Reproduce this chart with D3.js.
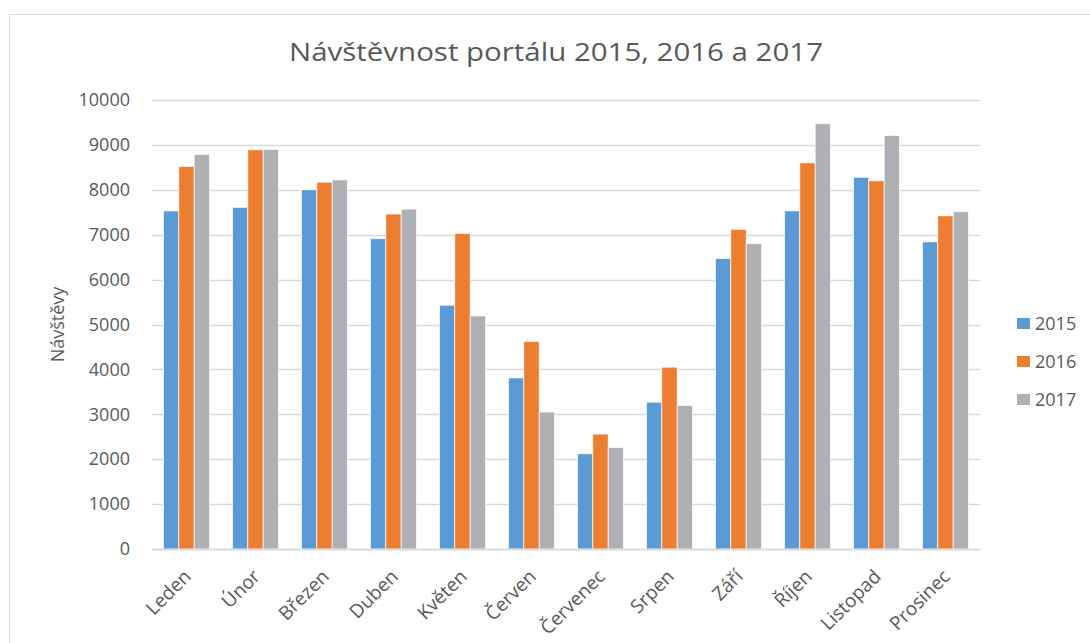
<!DOCTYPE html>
<html>
<head>
<meta charset="utf-8">
<script src="https://cdn.jsdelivr.net/npm/d3@7"></script>
<style>
  body { margin: 0; background: #fff; }
  text { font-family: "Open Sans", sans-serif; fill: #595959; }
</style>
</head>
<body>
<div id="chart"></div>
<script>
const months = ["Leden", "Únor", "Březen", "Duben", "Květen", "Červen", "Červenec", "Srpen", "Září", "Říjen", "Listopad", "Prosinec"];
const years = ["2015", "2016", "2017"];
const v2015 = [7530, 7610, 8000, 6910, 5430, 3810, 2120, 3270, 6470, 7530, 8280, 6840];
const v2016 = [8520, 8890, 8170, 7460, 7030, 4620, 2560, 4050, 7120, 8600, 8200, 7420];
const v2017 = [8790, 8900, 8220, 7570, 5190, 3050, 2260, 3200, 6800, 9470, 9210, 7510];
const yTicks = [0, 1000, 2000, 3000, 4000, 5000, 6000, 7000, 8000, 9000, 10000];

const colors = { "2015": "#5b9bd5", "2016": "#ed7d31", "2017": "#afb0b4" };
const seriesValues = { "2015": v2015, "2016": v2016, "2017": v2017 };

const W = 1090, H = 643;
const margin = { top: 100, right: 110, bottom: 94, left: 152 };
const width = W - margin.left - margin.right;
const height = H - margin.top - margin.bottom;

const svg = d3.select("#chart").append("svg")
  .attr("width", W)
  .attr("height", H);

// chart frame
svg.append("rect")
  .attr("x", 9.5).attr("y", 14.5)
  .attr("width", W + 10).attr("height", H + 10)
  .attr("fill", "none")
  .attr("stroke", "#d9d9d9");

svg.append("text")
  .attr("x", 289).attr("y", 61)
  .attr("textLength", 534)
  .attr("lengthAdjust", "spacingAndGlyphs")
  .style("font-size", "25px")
  .text("Návštěvnost portálu 2015, 2016 a 2017");

const g = svg.append("g").attr("transform", `translate(${margin.left},${margin.top})`);

const x = d3.scaleBand().domain(months).range([0, width])
  .paddingInner(0.333).paddingOuter(0.1667);
const x1 = d3.scaleBand().domain(years).range([0, x.bandwidth()]);
const y = d3.scaleLinear().domain([0, 10000]).range([height, 0]);

// gridlines
g.append("g")
  .selectAll("line")
  .data(yTicks)
  .join("line")
  .attr("x1", 0).attr("x2", width)
  .attr("y1", d => Math.round(y(d)) + 0.5)
  .attr("y2", d => Math.round(y(d)) + 0.5)
  .attr("stroke", "#d9d9d9")
  .attr("stroke-width", 1.3);

// y axis labels
const yAxis = g.append("g")
  .call(d3.axisLeft(y).tickValues(yTicks).tickSize(0).tickPadding(22).tickFormat(d3.format("d")));
yAxis.select(".domain").remove();
yAxis.selectAll("text").style("font-size", "18px").style("fill", "#595959");

// bars
const groups = g.append("g")
  .selectAll("g")
  .data(months)
  .join("g")
  .attr("transform", d => `translate(${x(d)},0)`);

groups.selectAll("rect")
  .data((m, i) => years.map(yr => ({ yr, v: seriesValues[yr][i] })))
  .join("rect")
  .attr("x", d => x1(d.yr))
  .attr("y", d => y(d.v))
  .attr("width", x1.bandwidth())
  .attr("height", d => height - y(d.v))
  .attr("fill", d => colors[d.yr])
  .attr("stroke", "#fff")
  .attr("stroke-width", 0.7);

// x axis
const xAxis = g.append("g")
  .attr("transform", `translate(0,${height})`)
  .call(d3.axisBottom(x).tickSize(0).tickPadding(0));
xAxis.select(".domain").attr("stroke", "#d9d9d9").attr("stroke-width", 1.3);
xAxis.selectAll("text")
  .style("font-size", "19px")
  .style("fill", "#595959")
  .attr("text-anchor", "end")
  .attr("y", 0)
  .attr("dy", "0.35em")
  .attr("transform", "translate(1,24) rotate(-45)");

// y axis title
svg.append("text")
  .attr("transform", `translate(64,${margin.top + height / 2}) rotate(-90)`)
  .attr("text-anchor", "middle")
  .style("font-size", "18px")
  .text("Návštěvy");

// legend
const legend = svg.append("g").attr("transform", "translate(1017,318)");
const li = legend.selectAll("g")
  .data(years)
  .join("g")
  .attr("transform", (d, i) => `translate(0,${i * 38})`);
li.append("rect")
  .attr("width", 13).attr("height", 11)
  .attr("fill", d => colors[d]);
li.append("text")
  .attr("x", 18).attr("y", 12)
  .style("font-size", "18px")
  .text(d => d);
</script>
</body>
</html>
